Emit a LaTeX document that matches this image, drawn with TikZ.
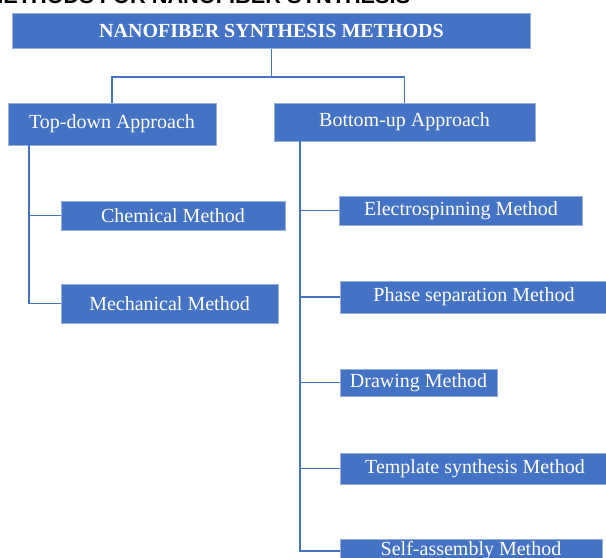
\documentclass[tikz,border=0pt]{standalone}
\usepackage{fontspec}
\setmainfont{Liberation Serif}
\newfontfamily\headfont{Liberation Sans}
\usetikzlibrary{calc}
\usepackage{color}
\definecolor{boxblue}{RGB}{68,114,196}
\definecolor{edgeblue}{RGB}{150,176,222}
\def\px{0.75pt}

\begin{document}
\begin{tikzpicture}
      [x = 0.75pt, y = -0.75pt,
      box/.style= {
         draw = edgeblue,
         fill = boxblue,
         line width = 0.4pt,
         text = white,
         inner sep = 0pt,
         font = \fontsize{15}{18}\selectfont
      },
      link/.style= {
         draw = boxblue,
         line width = 1.2pt
      }]

      \useasboundingbox (0, 0) rectangle (606, 557);
      \clip (0, 0) rectangle (606, 557);

      \node[anchor = base east, font = \headfont\bfseries\fontsize{16.3}{19}\selectfont] (caption) at (415, 3.5) {METHODS FOR NANOFIBER SYNTHESIS};

      \node[box, minimum width = 518*\px, minimum height = 35*\px, font = \bfseries\fontsize{15}{18}\selectfont] (title) at (271.5, 31) {NANOFIBER SYNTHESIS METHODS};

      \node[box, minimum width = 208*\px, minimum height = 42*\px] (topdown) at (112, 124) {Top-down Approach};
      \node[box, minimum width = 261*\px, minimum height = 38*\px] (bottomup) at (404.5, 122) {Bottom-up Approach};

      \node[box, minimum width = 224*\px, minimum height = 29*\px] (chemical) at (173, 215.5) {Chemical Method};
      \node[box, minimum width = 217*\px, minimum height = 39*\px] (mechanical) at (169.5, 303.5) {Mechanical Method};

      \node[box, minimum width = 243*\px, minimum height = 29*\px] (electro) at (461, 210.5) {Electrospinning Method};
      \node[box, minimum width = 268*\px, minimum height = 32*\px] (phase) at (474, 297) {Phase separation Method};
      \node[box, minimum width = 157*\px, minimum height = 27*\px] (drawing) at (418.5, 382.5) {Drawing Method};
      \node[box, minimum width = 270*\px, minimum height = 31*\px] (template) at (475, 468.5) {Template synthesis Method};
      \node[box, minimum width = 262*\px, minimum height = 24*\px] (selfasm) at (471, 551) {Self-assembly Method};

      \coordinate (tj) at (271.5, 77);
      \coordinate (lt) at ($(topdown.south west) + (21, 0)$);
      \coordinate (rt) at ($(bottomup.south west) + (26, 0)$);

      \draw[link] (title.south) -- (tj);
      \draw[link] (topdown.north) |- (tj) -| (bottomup.north);

      \draw[link] (lt) |- (chemical.west);
      \draw[link] (lt) |- (mechanical.west);

      \foreach \m in {electro, phase, drawing, template, selfasm}
         \draw[link] (rt) |- (\m.west);

   \end{tikzpicture}
\end{document}
